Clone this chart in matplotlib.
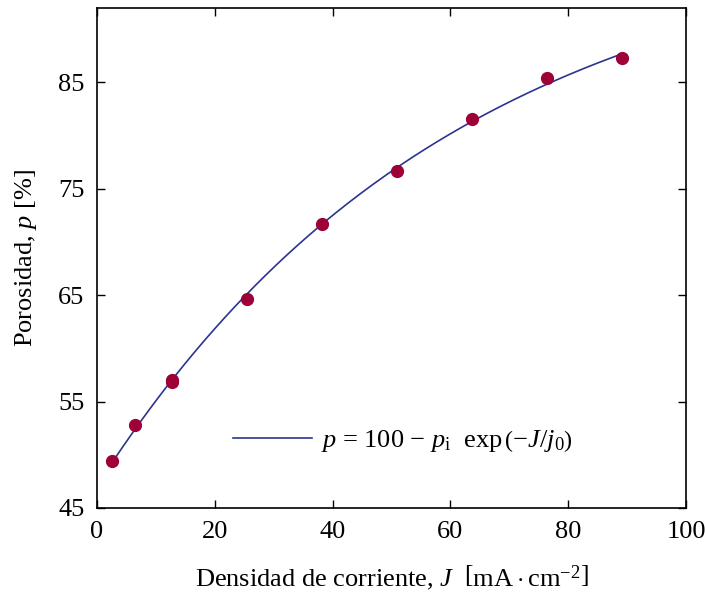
import numpy as np
import matplotlib
matplotlib.use("Agg")
import matplotlib.pyplot as plt

plt.rcParams['font.family'] = ['Liberation Serif', 'DejaVu Serif']
plt.rcParams['mathtext.fontset'] = 'custom'
plt.rcParams['mathtext.rm'] = 'Liberation Serif'
plt.rcParams['mathtext.it'] = 'Liberation Serif:italic'
plt.rcParams['mathtext.bf'] = 'Liberation Serif:bold'

# Densidad de corriente [mA/cm2] y porosidad [%]
J = [2.55, 6.37, 12.73, 12.73, 25.46, 38.2, 50.93, 63.66, 76.39, 89.13]
p = [49.4, 52.8, 57.0, 56.8, 64.6, 71.7, 76.7, 81.6, 85.4, 87.3]

xticks = [0, 20, 40, 60, 80, 100]
yticks = [45, 55, 65, 75, 85]

# ajuste p = 100 - pi*exp(-J/j0)
J_arr = np.array(J)
p_arr = np.array(p)
b, a = np.polyfit(J_arr, np.log(100 - p_arr), 1)
p_i = np.exp(a)
j0 = -1 / b
J_fit = np.linspace(J_arr.min(), J_arr.max(), 200)
p_fit = 100 - p_i * np.exp(-J_fit / j0)

fig = plt.figure(figsize=(7.05, 5.99), dpi=100)
ax = fig.add_axes([97 / 705, 91 / 599, 589 / 705, 500 / 599])

ax.plot(J_fit, p_fit, color='#2B3590', lw=1.2,
        label=r'$p$ = 100 $-$ $p_{\mathrm{i}}$  exp$\,\left(-J/j_0\right)$')
ax.plot(J, p, 'o', color='#9E0038', ms=8.5, zorder=3)

ax.set_xlim(0, 100)
ax.set_ylim(45, 92)
ax.set_xticks(xticks)
ax.set_yticks(yticks)
ax.tick_params(direction='in', top=True, right=True, length=6, width=1,
               labelsize=19, pad=9)
for s in ax.spines.values():
    s.set_linewidth(1.2)

ax.set_xlabel(r'Densidad de corriente, $J$  $\left[\mathrm{mA \cdot cm^{-2}}\right]$',
              fontsize=19, labelpad=15)
ax.set_ylabel(r'Porosidad, $p$ [%]', fontsize=19, labelpad=14)

ax.legend(loc='center left', bbox_to_anchor=(0.19, 0.133), frameon=False,
          fontsize=19, handlelength=3.0, handletextpad=0.35)

fig.savefig('out.png', dpi=100)
